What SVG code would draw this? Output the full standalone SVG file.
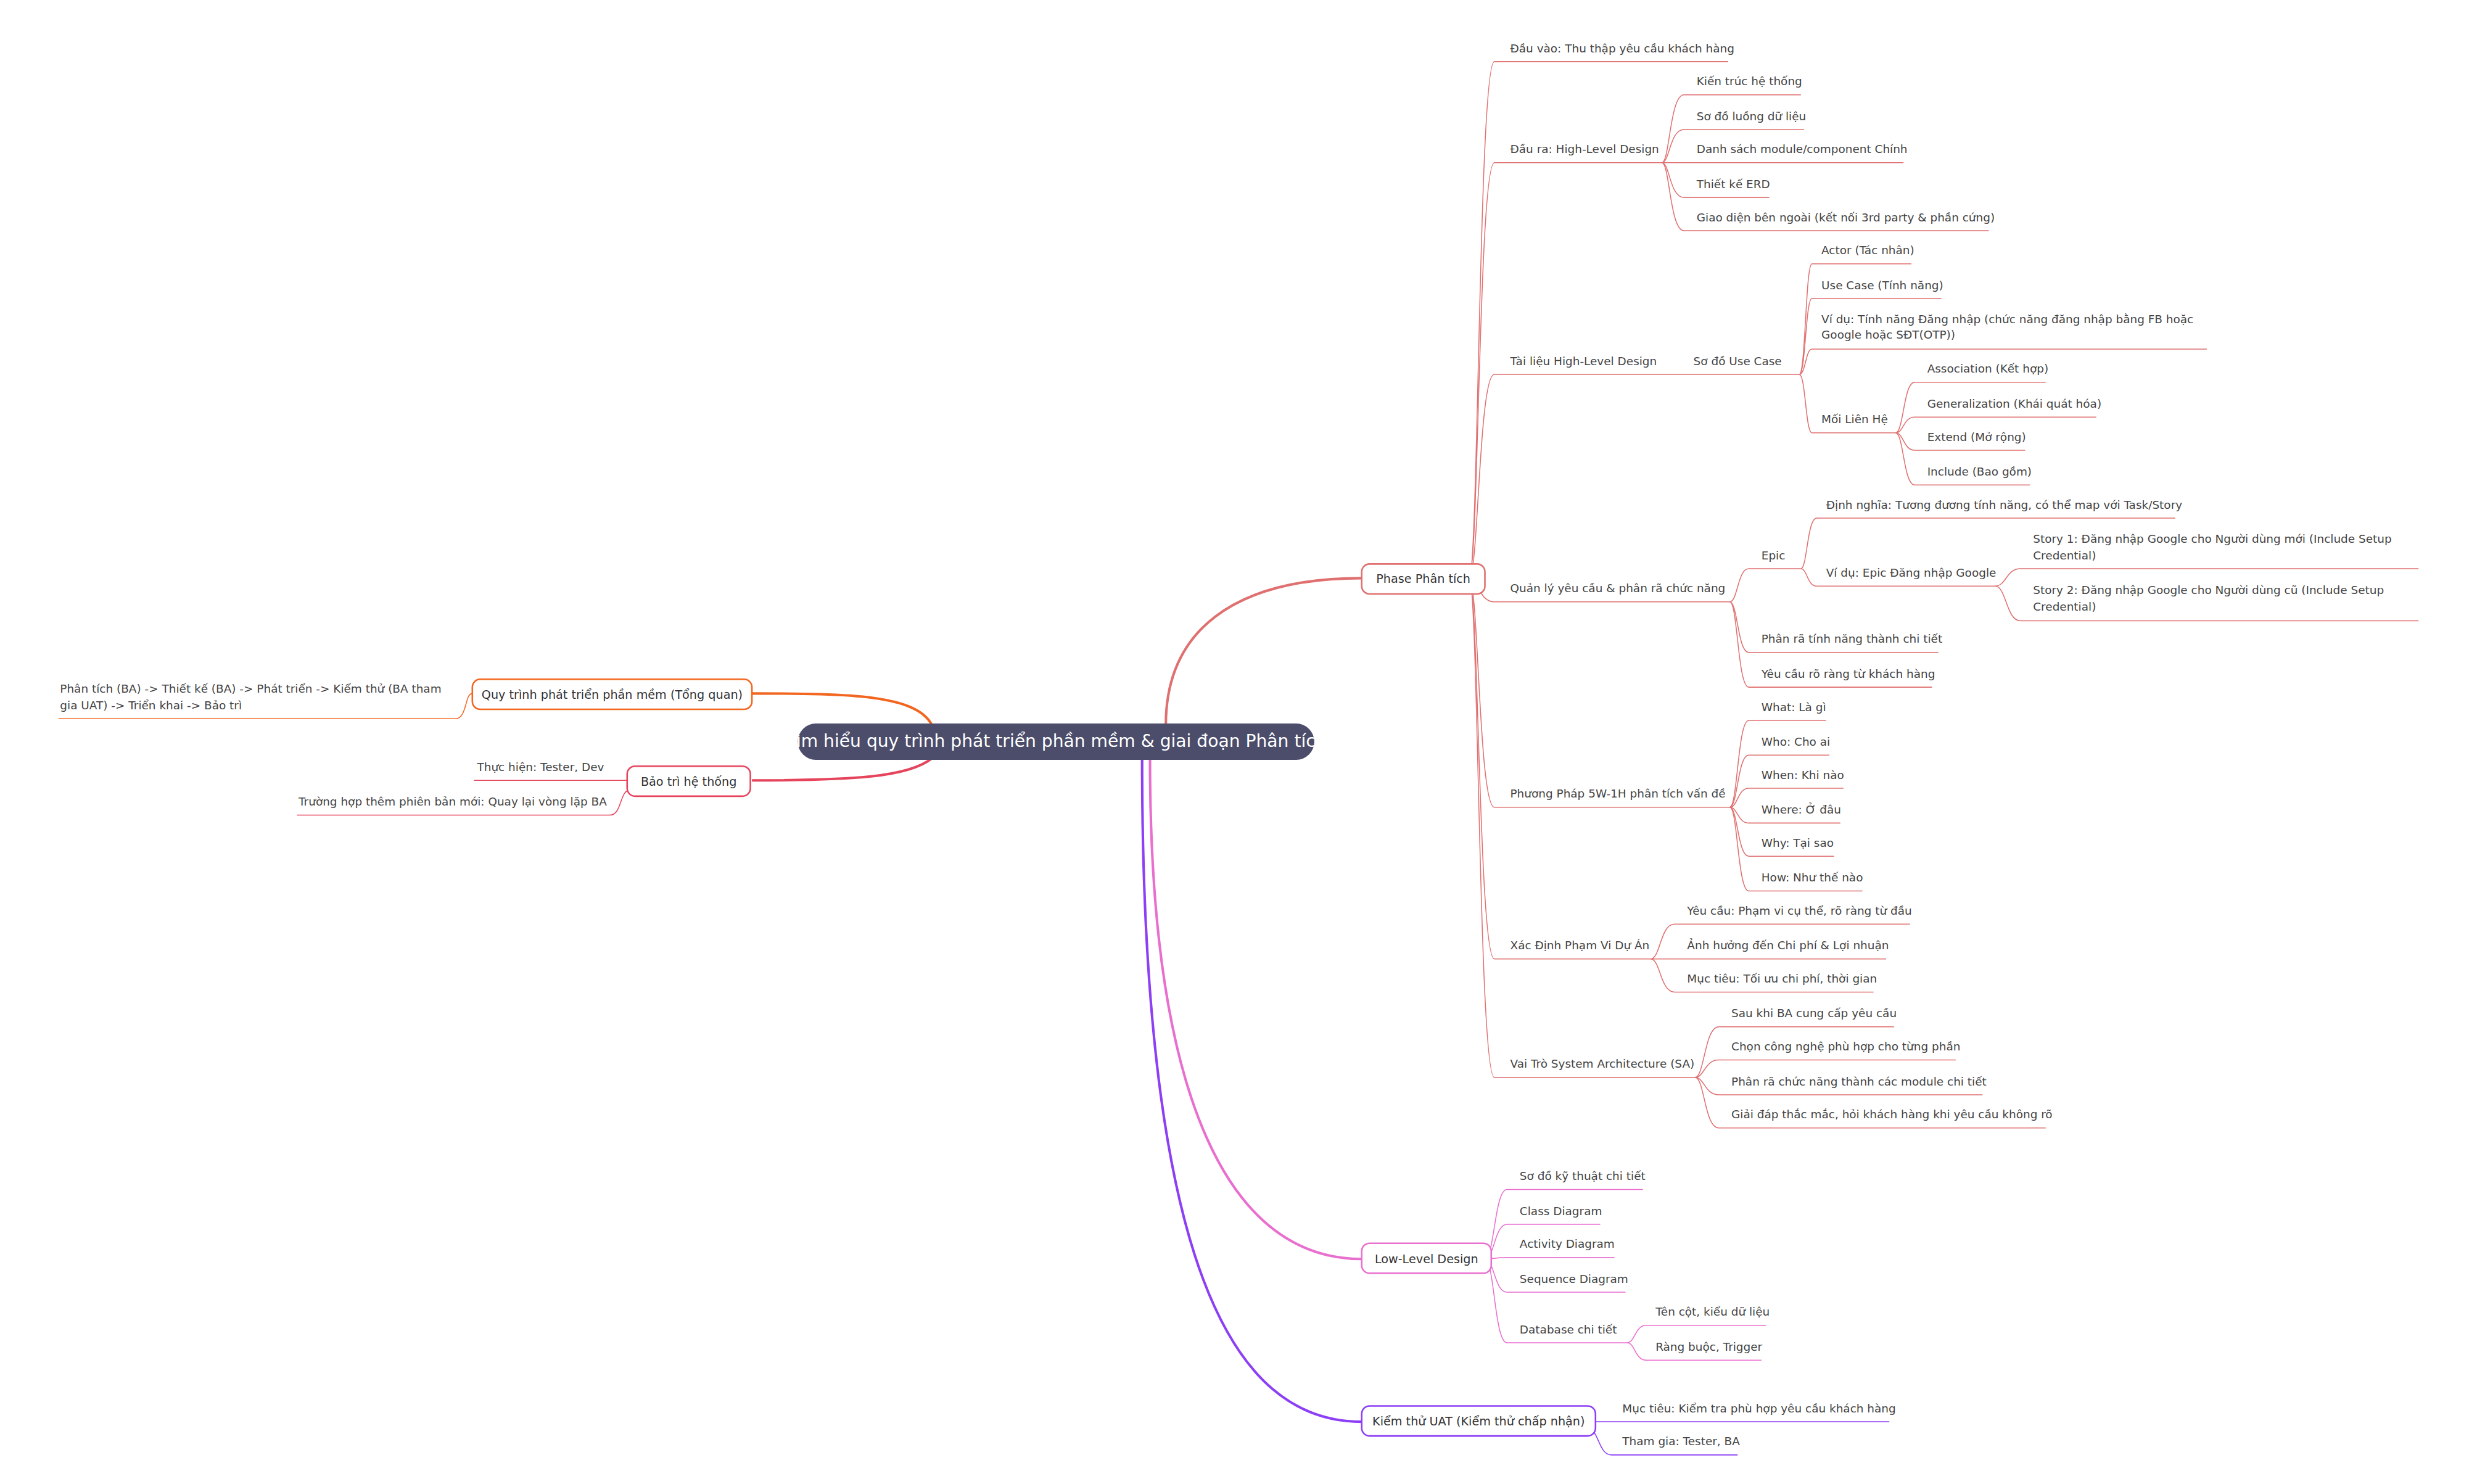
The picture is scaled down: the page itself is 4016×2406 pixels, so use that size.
<svg xmlns="http://www.w3.org/2000/svg" width="4016" height="2406" viewBox="0 0 4016 2406">
<style>
text{font-family:"DejaVu Sans","Noto Sans",sans-serif;fill:#444;font-size:7.2px}
.c{fill:none;stroke-width:0.6}
.m{fill:none;stroke-width:1.6}
.pa{stroke:#e07070}.ll{stroke:#e96fcf}.ua{stroke:#8c3ff5}.qt{stroke:#f2661f}.bt{stroke:#e5445c}
.n{fill:#fff;stroke-width:1}
.nt{font-size:7.5px;fill:#333;text-anchor:middle}
</style>
<rect width="4016" height="2406" fill="#fff"/>
<g transform="scale(2.5612)">
<g id="connectors">
<path class="m pa" d="M738 459 C738 400 780 366 862 366"/>
<path class="m ll" d="M728 481 C728 700 780 797 862 797"/>
<path class="m ua" d="M723 481 C723 800 780 900 862 900"/>
<path class="m qt" d="M590 459 C580 440 540 439 476 439"/>
<path class="m bt" d="M590 480 C575 492 540 494 476 494"/>
<g class="c pa">
<path d="M930 366 C936 366 936 39 946 39 H1094"/>
<path d="M930 366 C936 366 936 103 946 103 H1052"/>
<path d="M930 366 C936 366 936 237 946 237 H1139"/>
<path d="M930 366 C936 366 936 381 946 381 H1095"/>
<path d="M930 366 C936 366 936 511 946 511 H1095"/>
<path d="M930 366 C936 366 936 607 946 607 H1045"/>
<path d="M930 366 C936 366 936 682 946 682 H1073"/>
<path d="M1052 103 C1057 103 1057 60 1066 60 H1140"/>
<path d="M1052 103 C1057 103 1057 82 1066 82 H1142"/>
<path d="M1052 103 H1205"/>
<path d="M1052 103 C1057 103 1057 125 1066 125 H1120"/>
<path d="M1052 103 C1057 103 1057 146 1066 146 H1259"/>
<path d="M1139 237 C1143 237 1143 167 1147 167 H1210"/>
<path d="M1139 237 C1143 237 1143 189 1147 189 H1229"/>
<path d="M1139 237 C1143 237 1143 221 1147 221 H1397"/>
<path d="M1139 237 C1143 237 1143 274 1147 274 H1200"/>
<path d="M1200 274 C1205 274 1205 242 1212 242 H1295"/>
<path d="M1200 274 C1205 274 1205 264 1212 264 H1327"/>
<path d="M1200 274 C1205 274 1205 285 1212 285 H1282"/>
<path d="M1200 274 C1205 274 1205 307 1212 307 H1285"/>
<path d="M1095 381 C1100 381 1100 360 1107 360 H1140"/>
<path d="M1095 381 C1100 381 1100 413 1107 413 H1227"/>
<path d="M1095 381 C1100 381 1100 435 1107 435 H1223"/>
<path d="M1140 360 C1144 360 1144 328 1150 328 H1377"/>
<path d="M1140 360 C1144 360 1144 371 1150 371 H1263"/>
<path d="M1263 371 C1270 371 1270 360 1279 360 H1531"/>
<path d="M1263 371 C1270 371 1270 393 1279 393 H1531"/>
<path d="M1095 511 C1100 511 1100 456 1107 456 H1156"/>
<path d="M1095 511 C1100 511 1100 478 1107 478 H1158"/>
<path d="M1095 511 C1100 511 1100 499 1107 499 H1167"/>
<path d="M1095 511 C1100 511 1100 521 1107 521 H1165"/>
<path d="M1095 511 C1100 511 1100 542 1107 542 H1161"/>
<path d="M1095 511 C1100 511 1100 564 1107 564 H1179"/>
<path d="M1045 607 C1051 607 1051 585 1060 585 H1209"/>
<path d="M1045 607 H1194"/>
<path d="M1045 607 C1051 607 1051 628 1060 628 H1186"/>
<path d="M1073 682 C1079 682 1079 650 1088 650 H1199"/>
<path d="M1073 682 C1079 682 1079 671 1088 671 H1238"/>
<path d="M1073 682 C1079 682 1079 693 1088 693 H1255"/>
<path d="M1073 682 C1079 682 1079 714 1088 714 H1295"/>
</g>
<g class="c ll">
<path d="M940 797 C946 797 946 753 954 753 H1040"/>
<path d="M940 797 C946 797 946 775 954 775 H1013"/>
<path d="M940 797 C946 797 946 796 954 796 H1022"/>
<path d="M940 797 C946 797 946 818 954 818 H1029"/>
<path d="M940 797 C946 797 946 850 954 850 H1030"/>
<path d="M1030 850 C1035 850 1035 839 1042 839 H1118"/>
<path d="M1030 850 C1035 850 1035 861 1042 861 H1115"/>
</g>
<g class="c ua">
<path d="M1010 900 H1196"/>
<path d="M1006 905 C1012 905 1012 921 1020 921 H1100"/>
</g>
<g class="c qt"><path d="M299 439 C294 439 296 455 288 455 H37"/></g>
<g class="c bt">
<path d="M397 494 H300"/>
<path d="M399 500 C392 500 394 516 386 516 H188"/>
</g>
</g>
<g id="root"><rect x="505" y="458" width="327" height="23" rx="11.5" fill="#4b4d6b"/>
<text x="668.5" y="473" style="font-size:11px;fill:#fff;text-anchor:middle">Tìm hiểu quy trình phát triển phần mềm &amp; giai đoạn Phân tích</text></g>
<g id="phase"><rect class="n pa" x="862" y="357" width="78" height="19" rx="5"/><text class="nt" x="901" y="369">Phase Phân tích</text></g>
<g id="lld"><rect class="n ll" x="862" y="787" width="82" height="19" rx="5"/><text class="nt" x="903" y="799.5">Low-Level Design</text></g>
<g id="uat"><rect class="n ua" x="862" y="890" width="148" height="19" rx="5"/><text class="nt" x="936" y="902.5">Kiểm thử UAT (Kiểm thử chấp nhận)</text></g>
<g id="quytrinh"><rect class="n qt" x="299" y="430" width="177" height="19" rx="5"/><text class="nt" x="387.5" y="442.5">Quy trình phát triển phần mềm (Tổng quan)</text></g>
<g id="baotri"><rect class="n bt" x="397" y="485" width="78" height="19" rx="5"/><text class="nt" x="436" y="497.5">Bảo trì hệ thống</text></g>
<g id="leaves">
<text x="956" y="33">Đầu vào: Thu thập yêu cầu khách hàng</text>
<text x="956" y="97">Đầu ra: High-Level Design</text>
<text x="1074" y="54">Kiến trúc hệ thống</text>
<text x="1074" y="76">Sơ đồ luồng dữ liệu</text>
<text x="1074" y="97">Danh sách module/component Chính</text>
<text x="1074" y="119">Thiết kế ERD</text>
<text x="1074" y="140">Giao diện bên ngoài (kết nối 3rd party &amp; phần cứng)</text>
<text x="956" y="231">Tài liệu High-Level Design</text>
<text x="1072" y="231">Sơ đồ Use Case</text>
<text x="1153" y="161">Actor (Tác nhân)</text>
<text x="1153" y="183">Use Case (Tính năng)</text>
<text x="1153" y="204.5">Ví dụ: Tính năng Đăng nhập (chức năng đăng nhập bằng FB hoặc</text>
<text x="1153" y="214.5">Google hoặc SĐT(OTP))</text>
<text x="1153" y="268">Mối Liên Hệ</text>
<text x="1220" y="236">Association (Kết hợp)</text>
<text x="1220" y="258">Generalization (Khái quát hóa)</text>
<text x="1220" y="279">Extend (Mở rộng)</text>
<text x="1220" y="301">Include (Bao gồm)</text>
<text x="956" y="375">Quản lý yêu cầu &amp; phân rã chức năng</text>
<text x="1115" y="354">Epic</text>
<text x="1156" y="322">Định nghĩa: Tương đương tính năng, có thể map với Task/Story</text>
<text x="1156" y="365">Ví dụ: Epic Đăng nhập Google</text>
<text x="1287" y="343.5">Story 1: Đăng nhập Google cho Người dùng mới (Include Setup</text>
<text x="1287" y="354">Credential)</text>
<text x="1287" y="376">Story 2: Đăng nhập Google cho Người dùng cũ (Include Setup</text>
<text x="1287" y="386.5">Credential)</text>
<text x="1115" y="407">Phân rã tính năng thành chi tiết</text>
<text x="1115" y="429">Yêu cầu rõ ràng từ khách hàng</text>
<text x="956" y="505">Phương Pháp 5W-1H phân tích vấn đề</text>
<text x="1115" y="450">What: Là gì</text>
<text x="1115" y="472">Who: Cho ai</text>
<text x="1115" y="493">When: Khi nào</text>
<text x="1115" y="515">Where: Ở đâu</text>
<text x="1115" y="536">Why: Tại sao</text>
<text x="1115" y="558">How: Như thế nào</text>
<text x="956" y="601">Xác Định Phạm Vi Dự Án</text>
<text x="1068" y="579">Yêu cầu: Phạm vi cụ thể, rõ ràng từ đầu</text>
<text x="1068" y="601">Ảnh hưởng đến Chi phí &amp; Lợi nhuận</text>
<text x="1068" y="622">Mục tiêu: Tối ưu chi phí, thời gian</text>
<text x="956" y="676">Vai Trò System Architecture (SA)</text>
<text x="1096" y="644">Sau khi BA cung cấp yêu cầu</text>
<text x="1096" y="665">Chọn công nghệ phù hợp cho từng phần</text>
<text x="1096" y="687">Phân rã chức năng thành các module chi tiết</text>
<text x="1096" y="708">Giải đáp thắc mắc, hỏi khách hàng khi yêu cầu không rõ</text>
<text x="962" y="747">Sơ đồ kỹ thuật chi tiết</text>
<text x="962" y="769">Class Diagram</text>
<text x="962" y="790">Activity Diagram</text>
<text x="962" y="812">Sequence Diagram</text>
<text x="962" y="844">Database chi tiết</text>
<text x="1048" y="833">Tên cột, kiểu dữ liệu</text>
<text x="1048" y="855">Ràng buộc, Trigger</text>
<text x="1027" y="894">Mục tiêu: Kiểm tra phù hợp yêu cầu khách hàng</text>
<text x="1027" y="915">Tham gia: Tester, BA</text>
<text x="38" y="438.5">Phân tích (BA) -&gt; Thiết kế (BA) -&gt; Phát triển -&gt; Kiểm thử (BA tham</text>
<text x="38" y="449">gia UAT) -&gt; Triển khai -&gt; Bảo trì</text>
<text x="302" y="488">Thực hiện: Tester, Dev</text>
<text x="189" y="510">Trường hợp thêm phiên bản mới: Quay lại vòng lặp BA</text>
</g>
</g>
</svg>
